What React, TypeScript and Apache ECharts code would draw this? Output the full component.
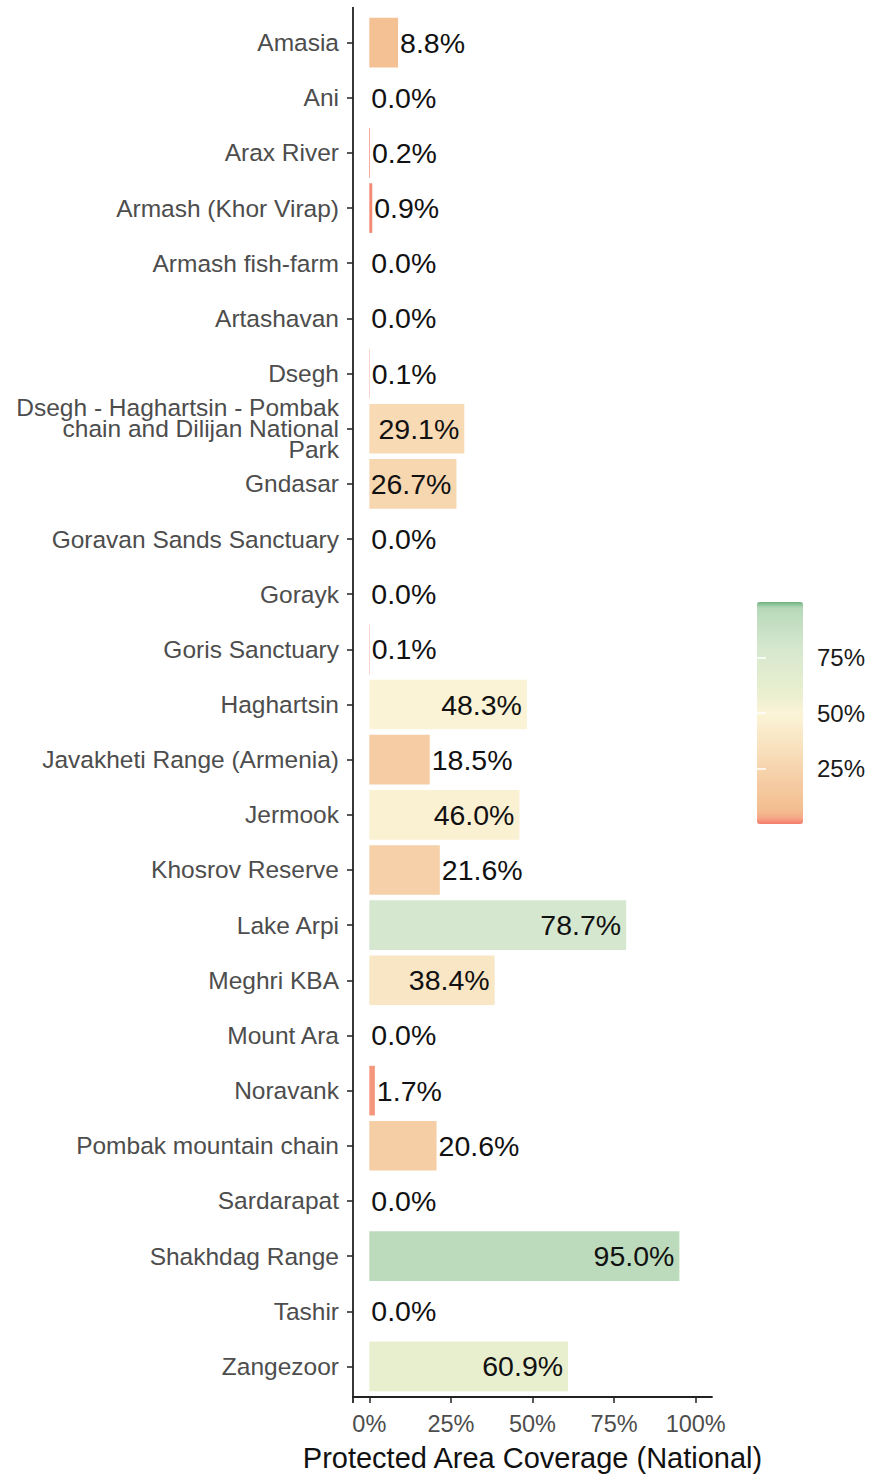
import React, { useEffect, useRef } from "react";
import * as echarts from "echarts";

const categories = [
  "Amasia",
  "Ani",
  "Arax River",
  "Armash (Khor Virap)",
  "Armash fish-farm",
  "Artashavan",
  "Dsegh",
  "Dsegh - Haghartsin - Pombak\nchain and Dilijan National\nPark",
  "Gndasar",
  "Goravan Sands Sanctuary",
  "Gorayk",
  "Goris Sanctuary",
  "Haghartsin",
  "Javakheti Range (Armenia)",
  "Jermook",
  "Khosrov Reserve",
  "Lake Arpi",
  "Meghri KBA",
  "Mount Ara",
  "Noravank",
  "Pombak mountain chain",
  "Sardarapat",
  "Shakhdag Range",
  "Tashir",
  "Zangezoor",
];

const coverage = [
  8.8, 0.0, 0.2, 0.9, 0.0, 0.0, 0.1, 29.1, 26.7, 0.0, 0.0, 0.1, 48.3, 18.5, 46.0,
  21.6, 78.7, 38.4, 0.0, 1.7, 20.6, 0.0, 95.0, 0.0, 60.9,
];

const xTicks = [0, 25, 50, 75, 100];
const legendTicks = [25, 50, 75];
const axisTitle = "Protected Area Coverage (National)";

// colour scale stops, evenly spaced from 0% to 100%
const scaleColors = [
  "#f47a6a", "#f4a585", "#f3b88e", "#f3bf92", "#f4c296", "#f4c59a", "#f5c89e",
  "#f5cba2", "#f5cda5", "#f6d1a9", "#f6d4ad", "#f7d8b1", "#f8dbb6", "#f8dfbb",
  "#f9e2bf", "#f9e5c3", "#f9e8c7", "#faebcb", "#faefd0", "#fbf2d4", "#fbf4d8",
  "#f5f2d4", "#f0f1d2", "#ecf0d0", "#e9efcf", "#e7eecf", "#e4edcf", "#e2eccf",
  "#dfebcf", "#ddeacf", "#dae9cf", "#d7e8cf", "#d4e6ce", "#d0e4cc", "#cce2c9",
  "#c8e0c6", "#c4dec3", "#c0ddc0", "#bcdbbc", "#b4d7b6", "#6db27f",
];

const FONT = "'Liberation Sans', Arial, sans-serif";
const GRID_LEFT = 353;
const GRID_RIGHT = 158;
const GRID_TOP = 15;
const GRID_BOTTOM = 77;
const X_OFFSET = 3;
const AXIS_COLOR = "#222222";

export default function App() {
  const ref = useRef<HTMLDivElement>(null);

  useEffect(() => {
    if (!ref.current) return;
    const chart = echarts.init(ref.current, undefined, { renderer: "svg" });

    const data = coverage.map((v) => ({
      value: v,
      label:
        v >= 25
          ? { position: "insideRight", distance: 5 }
          : { position: "right", distance: 2 },
    }));

    chart.setOption({
      animation: false,
      backgroundColor: "#ffffff",
      textStyle: { fontFamily: FONT },
      grid: [
        {
          left: GRID_LEFT,
          right: GRID_RIGHT,
          top: GRID_TOP,
          bottom: GRID_BOTTOM,
          containLabel: false,
        },
        { left: 757, top: 602, width: 46, height: 222 },
      ],
      xAxis: [
        {
          type: "value",
          gridIndex: 0,
          min: -5,
          max: 105,
          offset: X_OFFSET,
          axisLine: { show: true, onZero: false, lineStyle: { color: AXIS_COLOR, width: 1.8 } },
          axisTick: {
            show: true,
            length: 6,
            customValues: xTicks,
            lineStyle: { color: AXIS_COLOR, width: 1.5 },
          },
          axisLabel: {
            customValues: xTicks,
            formatter: (v: number) => `${v}%`,
            fontSize: 23.5,
            color: "#4d4d4d",
            margin: 15,
            fontFamily: FONT,
          },
          splitLine: { show: false },
          name: axisTitle,
          nameLocation: "middle",
          nameGap: 46,
          nameTextStyle: { fontSize: 29, color: "#111111", fontFamily: FONT },
        },
        {
          type: "value",
          gridIndex: 1,
          min: 0,
          max: 1,
          show: false,
        },
      ],
      yAxis: [
        {
          type: "category",
          gridIndex: 0,
          data: categories,
          inverse: true,
          axisLine: { show: false, onZero: false },
          axisTick: {
            show: true,
            alignWithLabel: true,
            length: 6,
            lineStyle: { color: AXIS_COLOR, width: 1.5 },
          },
          axisLabel: {
            fontSize: 24.5,
            lineHeight: 21,
            color: "#4d4d4d",
            margin: 14,
            align: "right",
            fontFamily: FONT,
            interval: 0,
          },
          splitLine: { show: false },
        },
        {
          type: "value",
          gridIndex: 1,
          position: "right",
          min: 0,
          max: 100,
          z: 10,
          axisLine: { show: false },
          axisTick: {
            show: true,
            inside: true,
            length: 9,
            customValues: legendTicks,
            lineStyle: { color: "#ffffff", width: 1.5 },
          },
          axisLabel: {
            customValues: legendTicks,
            formatter: (v: number) => `${v}%`,
            fontSize: 24,
            color: "#1a1a1a",
            margin: 14,
            fontFamily: FONT,
          },
          splitLine: { show: false },
        },
        {
          type: "value",
          gridIndex: 1,
          position: "left",
          min: 0,
          max: 100,
          z: 10,
          axisLine: { show: false },
          axisTick: {
            show: true,
            inside: true,
            length: 9,
            customValues: legendTicks,
            lineStyle: { color: "#ffffff", width: 1.5 },
          },
          axisLabel: { show: false },
          splitLine: { show: false },
        },
      ],
      visualMap: {
        type: "continuous",
        min: 0,
        max: 100,
        dimension: 0,
        seriesIndex: 0,
        calculable: false,
        text: null,
        show: true,
        left: 757,
        top: 602,
        padding: 0,
        itemWidth: 46,
        itemHeight: 222,
        inRange: { color: scaleColors },
      },
      graphic: [
        {
          type: "line",
          z: 100,
          shape: {
            x1: GRID_LEFT,
            y1: 7,
            x2: GRID_LEFT,
            y2: 1477 - GRID_BOTTOM + X_OFFSET,
          },
          style: { stroke: AXIS_COLOR, lineWidth: 1.8 },
        },
      ],
      series: [
        {
          type: "bar",
          xAxisIndex: 0,
          yAxisIndex: 0,
          data,
          barCategoryGap: "10%",
          label: {
            show: true,
            formatter: (p: any) => `${Number(p.value).toFixed(1)}%`,
            fontSize: 28.5,
            color: "#111111",
            fontFamily: FONT,
          },
        },
      ],
    });

    return () => chart.dispose();
  }, []);

  return (
    <div
      ref={ref}
      style={{ position: "fixed", left: 0, top: 0, width: 870, height: 1477 }}
    />
  );
}
